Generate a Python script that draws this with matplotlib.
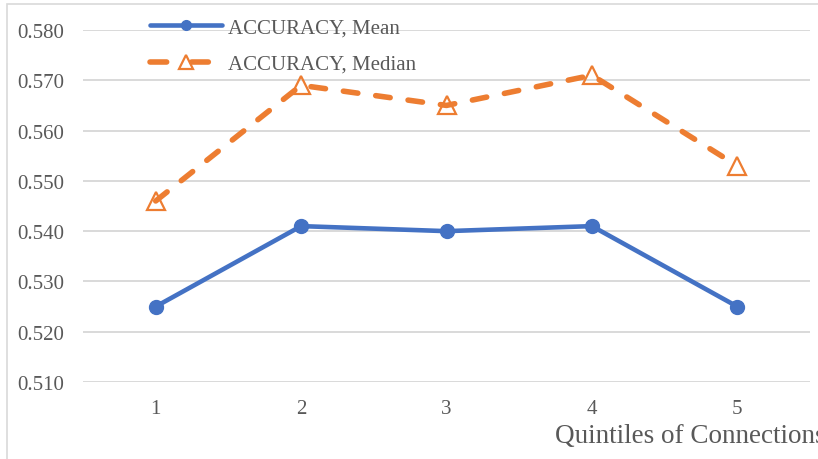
import matplotlib
matplotlib.use("Agg")
import matplotlib.pyplot as plt
from matplotlib.patches import Rectangle

# data
quintiles = [1, 2, 3, 4, 5]
acc_mean = [0.525, 0.541, 0.540, 0.541, 0.525]
acc_median = [0.546, 0.569, 0.565, 0.571, 0.553]
y_ticks = [0.510, 0.520, 0.530, 0.540, 0.550, 0.560, 0.570, 0.580]

BLUE = "#4472C4"
ORANGE = "#ED7D31"
GREY_TXT = "#595959"
GRID = "#D9D9D9"

plt.rcParams["font.family"] = ["Liberation Serif", "DejaVu Serif"]
plt.rcParams["lines.scale_dashes"] = False

fig = plt.figure(figsize=(8.18, 4.6), dpi=100)
ax = fig.add_axes([83 / 818, 1 - 383 / 460, (810 - 83) / 818, (383 - 31) / 460])

# chart outline (only left and top edges are visible in the crop)
fig.patches.append(Rectangle((7 / 818, -0.1), 1.2, 1 - 5 / 460 + 0.1,
                             transform=fig.transFigure, fill=False,
                             edgecolor=GRID, linewidth=1.2))

ax.plot(quintiles, acc_mean, color=BLUE, linewidth=3.3, marker="o",
        markersize=10, solid_capstyle="round", label="ACCURACY, Mean", zorder=3)
ax.plot(quintiles, acc_median, color=ORANGE, linewidth=4, dashes=(10.5, 13),
        dash_capstyle="round", marker="^", markersize=13.5,
        markerfacecolor="none", markeredgewidth=1.6,
        label="ACCURACY, Median", zorder=3)

ax.set_xlim(0.5, 5.5)
ax.set_ylim(0.510, 0.580)
ax.set_xticks(quintiles)
ax.set_yticks(y_ticks)
ax.set_yticklabels([f"{v:.3f}" for v in y_ticks])
ax.tick_params(axis="both", length=0, labelsize=15, labelcolor=GREY_TXT)
ax.tick_params(axis="y", pad=13.5)
ax.tick_params(axis="x", pad=12)
ax.grid(axis="y", color=GRID, linewidth=1.4)
ax.set_axisbelow(True)
for s in ax.spines.values():
    s.set_visible(False)

leg = ax.legend(loc="upper left", bbox_to_anchor=(150 / 818, 1 - 19 / 460),
                bbox_transform=fig.transFigure, frameon=False, fontsize=15,
                handlelength=3.45, handletextpad=0.3, labelspacing=0.8,
                borderpad=0, borderaxespad=0, markerscale=0.7)
for t in leg.get_texts():
    t.set_color(GREY_TXT)
# legend dash pattern: dash - triangle - dash
leg.get_lines()[1].set_dashes((12, 18))

fig.text(555 / 818, 1 - 443 / 460, "Quintiles of Connections", fontsize=19.5,
         color=GREY_TXT, ha="left", va="baseline")

fig.savefig("out.png", dpi=100)
